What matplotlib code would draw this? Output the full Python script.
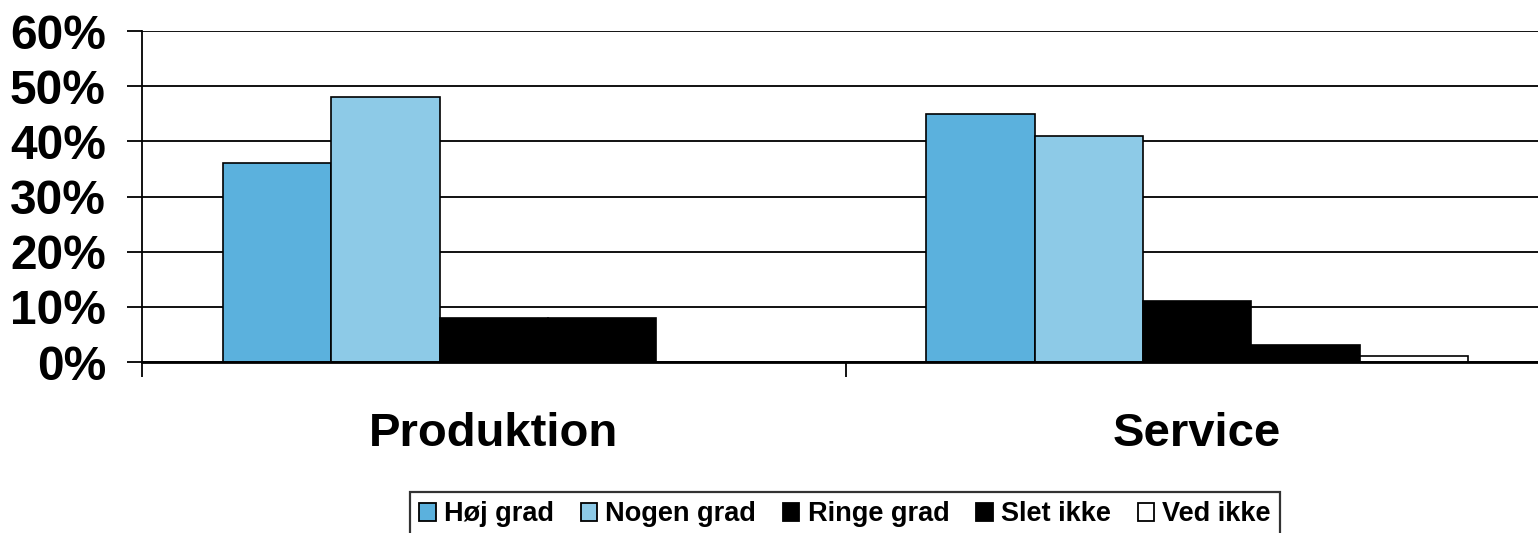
import matplotlib
matplotlib.use("Agg")
import matplotlib.pyplot as plt
import numpy as np
from matplotlib.patches import Patch

categories = ["Produktion", "Service"]
series_names = ["Høj grad", "Nogen grad", "Ringe grad", "Slet ikke", "Ved ikke"]
hoej_grad = [36, 45]
nogen_grad = [48, 41]
ringe_grad = [8, 11]
slet_ikke = [8, 3]
ved_ikke = [0, 1]
y_ticks = [0, 10, 20, 30, 40, 50, 60]
y_tick_labels = ["0%", "10%", "20%", "30%", "40%", "50%", "60%"]

series_values = [hoej_grad, nogen_grad, ringe_grad, slet_ikke, ved_ikke]
colors = ["#5BB1DD", "#8DCAE7", "#000000", "#000000", "#FFFFFF"]

plt.rcParams['font.family'] = ['Liberation Sans', 'DejaVu Sans']
plt.rcParams['font.weight'] = 'bold'

W, H = 1538, 533
fig = plt.figure(figsize=(W / 100, H / 100), dpi=100)
ax = fig.add_axes([142 / W, (H - 362) / H, 1407 / W, 331 / H])

x = np.arange(len(categories))
bw = 0.1542
for i, (vals, c) in enumerate(zip(series_values, colors)):
    ax.bar(x + (i - 2) * bw, vals, width=bw, color=c, edgecolor="black",
           linewidth=1.2, zorder=3, label=series_names[i])

ax.set_xlim(-0.5, 1.5)
ax.set_ylim(0, 60)
ax.set_yticks(y_ticks)
ax.set_yticklabels(y_tick_labels, fontsize=34.5, fontweight='bold')
ax.set_xticks(x)
ax.set_xticklabels(categories, fontsize=34, fontweight='bold')
ax.set_xticks([-0.5, 0.5, 1.5], minor=True)
ax.tick_params(axis='x', which='major', length=0, pad=36)
ax.tick_params(axis='x', which='minor', length=11, width=1.3, direction='out', color='black')
ax.tick_params(axis='y', which='major', length=11, width=1.3, direction='out', pad=15, color='black')

ax.yaxis.grid(True, color='#111111', linewidth=1.4, zorder=0)
ax.set_axisbelow(True)
for s in ["top", "right"]:
    ax.spines[s].set_visible(False)
ax.spines["left"].set_linewidth(1.3)
ax.spines["bottom"].set_linewidth(2.0)
ax.spines["bottom"].set_zorder(4)

handles = [Patch(facecolor=c, edgecolor='black', linewidth=1.3) for c in colors]
leg = fig.legend(handles, series_names, loc='upper center',
                 bbox_to_anchor=(845 / W, 1 - 492 / H), ncol=5, frameon=True,
                 fancybox=False, prop={'size': 19.5, 'weight': 'bold'},
                 handlelength=0.6, handleheight=0.6, handletextpad=0.3,
                 columnspacing=1.0, borderpad=0.35, borderaxespad=0)
leg.get_frame().set_edgecolor('black')
leg.get_frame().set_linewidth(1.6)

fig.savefig("out.png", dpi=100, facecolor='white')
